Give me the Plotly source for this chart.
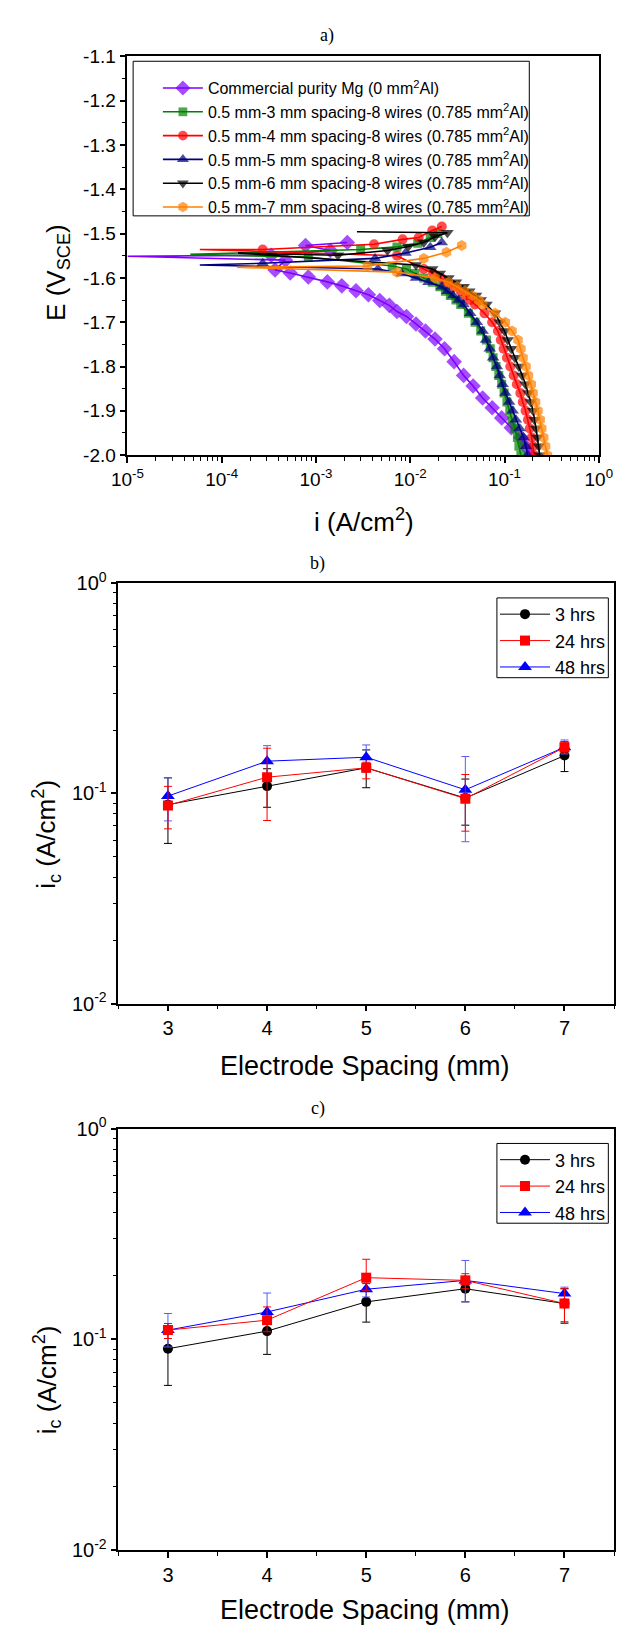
import plotly.graph_objects as go

W, H = 629, 1634

# ---------------- Panel a: potentiodynamic polarization curves ----------------
# potential levels used to read the cathodic branches (V_SCE)
cath_E = [-2.00, -1.98, -1.96, -1.94, -1.92, -1.90, -1.88, -1.86, -1.84, -1.82, -1.80, -1.78,
          -1.76, -1.74, -1.72, -1.70, -1.68, -1.66, -1.65, -1.64, -1.63, -1.62, -1.61, -1.60,
          -1.59, -1.58]

mg_E = [-2.00, -1.98, -1.96, -1.938, -1.916, -1.893, -1.871, -1.844, -1.82, -1.789, -1.76, -1.738,
        -1.72, -1.704, -1.687, -1.676, -1.662, -1.651, -1.638, -1.629, -1.618, -1.609, -1.598,
        -1.589, -1.582, -1.56, -1.551, -1.549, -1.538, -1.527, -1.52]
mg_i = [0.19, 0.167, 0.149, 0.118, 0.0933, 0.074, 0.0586, 0.0464, 0.0368, 0.0292, 0.0231, 0.0183,
        0.0145, 0.0115, 0.00912, 0.00723, 0.0060, 0.00475, 0.0036, 0.00266, 0.00188, 0.00132, 0.00083,
        0.000533, 0.000368, 0.000475, 1.0e-5, 0.000335, 0.00142, 0.000775, 0.00215]

w3_E = cath_E + [-1.573, -1.553, -1.547, -1.536, -1.530, -1.522, -1.509, -1.500]
w3_i = [0.149, 0.142, 0.137, 0.129, 0.120, 0.1137, 0.106, 0.0989, 0.0933, 0.0869, 0.0811, 0.0756,
        0.0705, 0.0643, 0.0559, 0.0486, 0.0413, 0.0343, 0.0305, 0.0266, 0.0236, 0.0206, 0.0171, 0.0139,
        0.0112, 0.00912, 0.00643, 0.00083, 4.65e-5, 0.00298, 0.00722, 0.0120, 0.0163, 0.0196]

w4_E = cath_E + [-1.550, -1.536, -1.536, -1.524, -1.513, -1.509, -1.493, -1.484]
w4_i = [0.206, 0.201, 0.194, 0.185, 0.177, 0.167, 0.156, 0.147, 0.135, 0.125, 0.115, 0.106,
        0.0977, 0.0912, 0.0850, 0.0739, 0.0614, 0.0486, 0.0433, 0.0385, 0.0343, 0.0292, 0.0248, 0.0211,
        0.0175, 0.0139, 0.00723, 5.86e-5, 0.000272, 0.00413, 0.0083, 0.0123, 0.0171, 0.0216]

w5_E = cath_E + [-1.571, -1.567, -1.556, -1.544, -1.531, -1.520]
w5_i = [0.175, 0.169, 0.159, 0.145, 0.132, 0.122, 0.112, 0.1023, 0.0955, 0.0890, 0.0830, 0.0756,
        0.0697, 0.0635, 0.0586, 0.0509, 0.0433, 0.0368, 0.0327, 0.0285, 0.0248, 0.0216, 0.0156, 0.0115,
        0.00811, 0.00454, 5.86e-5, 0.000272, 0.00423, 0.0089, 0.0163, 0.0216]

w6_E = cath_E + [-1.571, -1.544, -1.549, -1.538, -1.529, -1.520, -1.507, -1.498, -1.496]
w6_i = [0.236, 0.231, 0.223, 0.216, 0.208, 0.201, 0.190, 0.179, 0.167, 0.154, 0.142, 0.129,
        0.118, 0.108, 0.100, 0.0890, 0.0793, 0.0643, 0.0559, 0.0498, 0.0423, 0.0368, 0.0305, 0.0254,
        0.0206, 0.0171, 0.0115, 0.000149, 0.00171, 0.00573, 0.00955, 0.0139, 0.0183, 0.0248, 0.00272]

w7_E = cath_E[:24] + [-1.587, -1.576, -1.573, -1.556, -1.542, -1.527]
w7_i = [0.285, 0.272, 0.260, 0.248, 0.239, 0.226, 0.213, 0.201, 0.192, 0.179, 0.169, 0.157,
        0.149, 0.139, 0.120, 0.102, 0.0793, 0.0586, 0.0533, 0.0454, 0.0377, 0.0313, 0.0254, 0.0183,
        0.00723, 0.000145, 0.00351, 0.0139, 0.0242, 0.0351]

a_names = ["Commercial purity Mg (0 mm<sup>2</sup>Al)",
           "0.5 mm-3 mm spacing-8 wires (0.785 mm<sup>2</sup>Al)",
           "0.5 mm-4 mm spacing-8 wires (0.785 mm<sup>2</sup>Al)",
           "0.5 mm-5 mm spacing-8 wires (0.785 mm<sup>2</sup>Al)",
           "0.5 mm-6 mm spacing-8 wires (0.785 mm<sup>2</sup>Al)",
           "0.5 mm-7 mm spacing-8 wires (0.785 mm<sup>2</sup>Al)"]
a_xtick_vals = [1e-5, 1e-4, 1e-3, 1e-2, 1e-1, 1]
a_xtick_text = ["10<sup>-5</sup>", "10<sup>-4</sup>", "10<sup>-3</sup>", "10<sup>-2</sup>",
                "10<sup>-1</sup>", "10<sup>0</sup>"]
a_ytick_vals = [-1.1, -1.2, -1.3, -1.4, -1.5, -1.6, -1.7, -1.8, -1.9, -2.0]
a_ytick_text = ["-1.1", "-1.2", "-1.3", "-1.4", "-1.5", "-1.6", "-1.7", "-1.8", "-1.9", "-2.0"]

# ---------------- Panels b and c: corrosion current vs electrode spacing ----------------
spacing = [3, 4, 5, 6, 7]
b_3h = [0.0884, 0.1083, 0.1323, 0.0950, 0.1513]
b_3h_hi = [0.1186, 0.131, 0.161, 0.117, 0.176]
b_3h_lo = [0.0578, 0.0859, 0.1064, 0.0706, 0.127]
b_24h = [0.0877, 0.1194, 0.1323, 0.0944, 0.1656]
b_24h_hi = [0.108, 0.164, 0.1406, 0.123, 0.176]
b_24h_lo = [0.0678, 0.0743, 0.1173, 0.0661, 0.1556]
b_48h = [0.0971, 0.1423, 0.1486, 0.104, 0.1656]
b_48h_hi = [0.1186, 0.1687, 0.170, 0.1497, 0.1795]
b_48h_lo = [0.0740, 0.1216, 0.1262, 0.0589, 0.154]

c_3h = [0.0903, 0.1095, 0.1507, 0.174, 0.148]
c_3h_hi = [0.110, 0.128, 0.184, 0.199, 0.174]
c_3h_lo = [0.0605, 0.0849, 0.1208, 0.1507, 0.121]
c_24h = [0.1107, 0.1234, 0.1963, 0.1906, 0.148]
c_24h_hi = [0.119, 0.1426, 0.240, 0.205, 0.174]
c_24h_lo = [0.101, 0.1087, 0.171, 0.174, 0.119]
c_48h = [0.1107, 0.135, 0.173, 0.1906, 0.165]
c_48h_hi = [0.1327, 0.166, 0.185, 0.237, 0.177]
c_48h_lo = [0.092, 0.1257, 0.159, 0.1507, 0.1535]

bc_names = ["3 hrs", "24 hrs", "48 hrs"]
bc_ytick_vals = [0.01, 0.1, 1]
bc_ytick_text = ["10<sup>-2</sup>", "10<sup>-1</sup>", "10<sup>0</sup>"]
bc_xtick_vals = [3, 4, 5, 6, 7]
bc_xtick_text = ["3", "4", "5", "6", "7"]

# ---------------- figure ----------------
SANS = "Liberation Sans"
SERIF = "Liberation Serif"
fig = go.Figure()


def sizes_hiding_jumps(vals, base, extra=()):
    k = vals.index(min(vals))
    return [0 if (j == k or j in extra) else base for j in range(len(vals))]


a_series = [
    (mg_i, mg_E, "#8000FF", "diamond", 12, ()),
    (w3_i, w3_E, "#008000", "square", 9, ()),
    (w4_i, w4_E, "#FF0000", "circle", 10, ()),
    (w5_i, w5_E, "#000080", "triangle-up", 11, ()),
    (w6_i, w6_E, "#000000", "triangle-down", 11, (len(w6_i) - 1,)),
    (w7_i, w7_E, "#FF8000", "hexagon", 11, ()),
]
for k, (iv, ev, col, sym, sz, extra) in enumerate(a_series):
    fig.add_trace(go.Scatter(
        x=iv, y=ev, mode="lines+markers", name=a_names[k],
        line=dict(color=col, width=1.6),
        marker=dict(symbol=sym, size=sizes_hiding_jumps(iv, sz, extra), color=col,
                    line=dict(width=0)),
        xaxis="x", yaxis="y", legend="legend"))

bc_style = [("#000000", "circle", 10, "#000000"),
            ("#FF0000", "square", 10, "#FF0000"),
            ("#0000FF", "triangle-up", 12, "#5A5AFF")]
panels = [("x2", "y2", "legend2",
           [(b_3h, b_3h_hi, b_3h_lo), (b_24h, b_24h_hi, b_24h_lo), (b_48h, b_48h_hi, b_48h_lo)]),
          ("x3", "y3", "legend3",
           [(c_3h, c_3h_hi, c_3h_lo), (c_24h, c_24h_hi, c_24h_lo), (c_48h, c_48h_hi, c_48h_lo)])]
draw_order = [0, 2, 1]  # red squares end up on top, as in the original
for xa, ya, lg, sets in panels:
    for k in draw_order:
        v, hi, lo = sets[k]
        col, sym, sz, ecol = bc_style[k]
        fig.add_trace(go.Scatter(
            x=spacing, y=v, mode="lines+markers", name=bc_names[k],
            line=dict(color=col, width=1),
            marker=dict(symbol=sym, size=sz, color=col, line=dict(width=0)),
            error_y=dict(type="data", symmetric=False,
                         array=[h - m for h, m in zip(hi, v)],
                         arrayminus=[m - l for m, l in zip(v, lo)],
                         color=ecol, thickness=1, width=4),
            xaxis=xa, yaxis=ya, legend=lg, legendrank=k + 1))

axis_common = dict(showline=True, linecolor="black", linewidth=1.5, mirror=True,
                   showgrid=False, zeroline=False, ticks="outside", tickcolor="black",
                   tickwidth=1.5, ticklen=6)
minor_common = dict(ticks="outside", ticklen=4, tickwidth=1, tickcolor="black", showgrid=False)

a_xminor = [m * 10.0 ** e for e in range(-5, 0) for m in range(2, 10)]
bc_yminor = [m * 10.0 ** e for e in range(-2, 0) for m in range(2, 10)]

bx_dom = [107.5 / W, 628 / W]
tick_a = dict(family=SANS, size=19, color="black")
tick_bc = dict(family=SANS, size=20, color="black")

fig.update_layout(
    width=W, height=H, autosize=False,
    margin=dict(l=0, r=0, t=0, b=0),
    paper_bgcolor="white", plot_bgcolor="white",
    hovermode=False,
    xaxis=dict(type="log", range=[-5, 0], domain=[117 / W, 612 / W], anchor="y",
               tickmode="array", tickvals=a_xtick_vals, ticktext=a_xtick_text, tickfont=tick_a,
               minor=dict(tickmode="array", tickvals=a_xminor, **minor_common),
               **axis_common),
    yaxis=dict(range=[-2.0, -1.1], domain=[1 - 448 / H, 1 - 43 / H], anchor="x",
               tickmode="array", tickvals=a_ytick_vals, ticktext=a_ytick_text, tickfont=tick_a,
               minor=dict(tick0=-2.0, dtick=0.05, **minor_common),
               **axis_common),
    xaxis2=dict(range=[2.5, 7.5], domain=bx_dom, anchor="y2",
                tickmode="array", tickvals=bc_xtick_vals, ticktext=bc_xtick_text, tickfont=tick_bc,
                minor=dict(tick0=2.5, dtick=0.5, **minor_common),
                **axis_common),
    yaxis2=dict(type="log", range=[-2, 0], domain=[1 - 1005 / H, 1 - 578 / H], anchor="x2",
                tickmode="array", tickvals=bc_ytick_vals, ticktext=bc_ytick_text, tickfont=tick_bc,
                minor=dict(tickmode="array", tickvals=bc_yminor, **minor_common),
                **axis_common),
    xaxis3=dict(range=[2.5, 7.5], domain=bx_dom, anchor="y3",
                tickmode="array", tickvals=bc_xtick_vals, ticktext=bc_xtick_text, tickfont=tick_bc,
                minor=dict(tick0=2.5, dtick=0.5, **minor_common),
                **axis_common),
    yaxis3=dict(type="log", range=[-2, 0], domain=[1 - 1560 / H, 1 - 1132 / H], anchor="x3",
                tickmode="array", tickvals=bc_ytick_vals, ticktext=bc_ytick_text, tickfont=tick_bc,
                minor=dict(tickmode="array", tickvals=bc_yminor, **minor_common),
                **axis_common),
    legend=dict(x=149 / W, y=1 - 58 / H, xanchor="left", yanchor="top",
                bgcolor="rgba(0,0,0,0)", borderwidth=0, itemwidth=40,
                font=dict(family=SANS, size=16, color="black")),
    legend2=dict(x=503 / W, y=1 - 591 / H, xanchor="left", yanchor="top",
                 bgcolor="rgba(0,0,0,0)", borderwidth=0, itemwidth=50,
                 font=dict(family=SANS, size=18, color="black")),
    legend3=dict(x=503 / W, y=1 - 1145 / H, xanchor="left", yanchor="top",
                 bgcolor="rgba(0,0,0,0)", borderwidth=0, itemwidth=50,
                 font=dict(family=SANS, size=18, color="black")),
    showlegend=True,
)

# legend frames
for (x0, y0, x1, y1) in [(123, 48, 539, 205), (505, 593, 622, 674), (505, 1147, 622, 1228)]:
    fig.add_shape(type="rect", xref="paper", yref="paper",
                  x0=x0 / W, x1=x1 / W, y0=1 - y0 / H, y1=1 - y1 / H,
                  line=dict(color="black", width=1), fillcolor="rgba(0,0,0,0)", layer="above")

# panel labels and axis titles
texts = [
    ("a)", 327, 22, SERIF, 18, 0),
    ("b)", 317, 558, SERIF, 18, 0),
    ("c)", 317, 1112, SERIF, 18, 0),
    ("i (A/cm<sup>2</sup>)", 365, 514, SANS, 26, 0),
    ("E (V<sub>SCE</sub>)", 44, 262, SANS, 26, -90),
    ("Electrode Spacing (mm)", 367, 1068, SANS, 27, 0),
    ("i<sub>c</sub> (A/cm<sup>2</sup>)", 32, 833, SANS, 26, -90),
    ("Electrode Spacing (mm)", 367, 1621, SANS, 27, 0),
    ("i<sub>c</sub> (A/cm<sup>2</sup>)", 32, 1387, SANS, 26, -90),
]
for t, x, y, fam, fs, ang in texts:
    fig.add_annotation(text=t, x=x / W, y=1 - y / H, xref="paper", yref="paper",
                       showarrow=False, xanchor="center", yanchor="middle", textangle=ang,
                       font=dict(family=fam, size=fs, color="black"))

fig.write_html("out.html", config={"displayModeBar": False},
               post_script="document.body.style.margin='0px';")
